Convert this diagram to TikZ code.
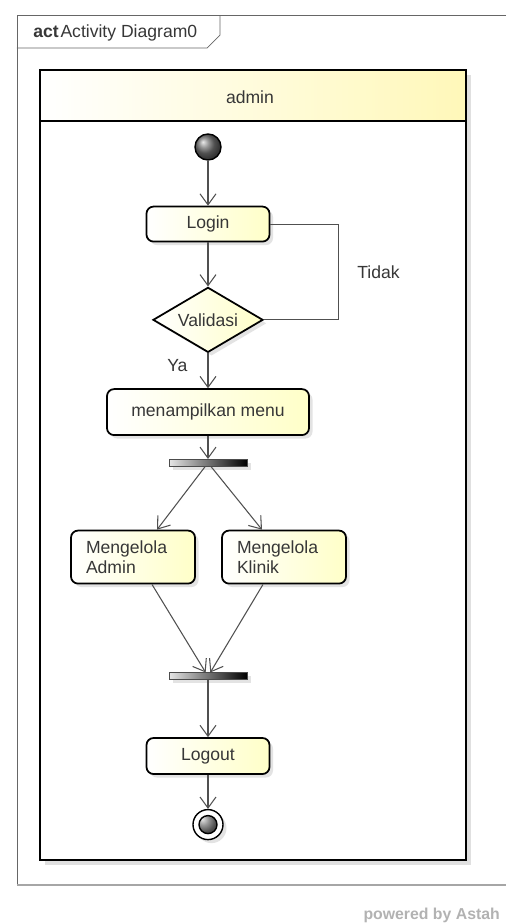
\documentclass[tikz,border=0pt]{standalone}
\usepackage{fontspec}
\setmainfont{Liberation Sans}
\usepackage{tikz}
\usetikzlibrary{shapes.geometric,arrows.meta,positioning,shadows}
\definecolor{paleyellow}{RGB}{255,255,200}
\definecolor{lanehead}{RGB}{255,248,185}
\definecolor{textgray}{RGB}{55,55,55}
\definecolor{linegray}{RGB}{80,80,80}
\tikzstyle{softshadow} = [drop shadow={shadow xshift=0.07cm, shadow yshift=-0.07cm, opacity=0.22}]
\tikzstyle{activity} = [rectangle, rounded corners=4pt, minimum width=2.46cm, minimum height=0.7cm, text centered, draw=black, line width=1pt, left color=white, right color=paleyellow, softshadow]
\tikzstyle{twoline} = [activity, text width=1.88cm, align=left, inner xsep=0.3cm, minimum height=1.06cm]
\tikzstyle{decision} = [diamond, aspect=1.7, minimum width=2.2cm, minimum height=1.3cm, inner sep=0pt, draw=black, line width=1pt, left color=white, right color=paleyellow, softshadow]
\tikzstyle{syncbar} = [rectangle, minimum width=1.56cm, minimum height=0.14cm, inner sep=0pt, draw=black!70, left color=black!10, right color=black, softshadow]
\tikzstyle{initial} = [circle, draw=black, line width=0.8pt, minimum size=0.52cm, inner sep=0pt, ball color=black!55]
\tikzstyle{final} = [circle, draw=black, line width=0.8pt, minimum size=0.6cm, inner sep=0pt, fill=white, softshadow, path picture={\shadedraw[ball color=black!55, draw=black] (path picture bounding box.center) circle (0.18cm);}]
\tikzstyle{flow} = [draw=linegray, line width=0.6pt]
\tikzstyle{arrow} = [flow, -{Straight Barb[length=2.2mm,width=3.2mm]}]
\tikzstyle{guard} = [inner sep=0pt, text=textgray]

\begin{document}
\begin{tikzpicture}[node distance=0.9cm, font=\fontsize{10}{11.5}\selectfont, every node/.append style={text=textgray}]
\useasboundingbox (0,0) rectangle (10.12,-18.46);

% diagram frame with its tab
\draw[black!60] (10.12,-0.3) -- (0.34,-0.3) -- (0.34,-17.7);
\draw[black!35, line width=1.2pt] (0.34,-17.7) -- (10.12,-17.7);
\draw[black!60] (4.4,-0.3) -- (4.4,-0.7) -- (4.14,-0.96) -- (0.34,-0.96);
\node(title) [anchor=west, inner sep=0pt] at (0.66,-0.66) {\textbf{act}\kern1pt Activity Diagram0};

% swimlane
\fill[black!20, opacity=0.6] (0.9,-1.5) rectangle (9.42,-17.3);
\fill[white] (0.8,-1.4) rectangle (9.32,-17.2);
\shade[left color=white, right color=lanehead] (0.8,-1.4) rectangle (9.32,-2.42);
\draw[line width=1.4pt] (0.8,-1.4) rectangle (9.32,-17.2);
\draw[line width=1.4pt] (0.8,-2.42) -- (9.32,-2.42);
\node(lane) at (5.0,-1.94) {admin};

\node(start)   [initial] at (4.16,-2.94) {};
\node(login)   [activity, below=0.9cm of start] {Login};
\node(valid)   [decision, below=0.88cm of login] {Validasi};
\node(menu)    [activity, minimum width=4.04cm, minimum height=0.92cm, below=0.7cm of valid] {menampilkan menu};
\node(fork)    [syncbar, below=0.46cm of menu] {};
\node(admin)   [twoline, below=1.26cm of fork, xshift=-1.5cm] {Mengelola\\Admin};
\node(klinik)  [twoline, below=1.26cm of fork, xshift=1.52cm] {Mengelola\\Klinik};
\node(join)    [syncbar, below=1.76cm of admin, xshift=1.5cm] {};
\node(logout)  [activity, minimum height=0.72cm, below=1.14cm of join] {Logout};
\node(stop)    [final, below=0.68cm of logout] {};

\draw [arrow] (start)  -- (login);
\draw [arrow] (login)  -- (valid);
\draw [flow]  (valid.east) -- ++(1.5,0) |- node[guard, pos=0.25, right=0.36cm]{Tidak} (login.east);
\draw [arrow] (valid)  -- node[guard, pos=0.35, left=0.4cm]{Ya} (menu);
\draw [arrow] (menu)   -- (fork);
\draw [arrow] (fork)   -- ([xshift=0.48cm]admin.north);
\draw [arrow] (fork)   -- ([xshift=-0.44cm]klinik.north);
\draw [arrow] ([xshift=0.38cm]admin.south)   -- (join);
\draw [arrow] ([xshift=-0.42cm]klinik.south) -- (join);
\draw [arrow] (join)   -- (logout);
\draw [arrow] (logout) -- (stop);

\node(credit) [anchor=east, text=black!30, font=\fontsize{9}{10}\selectfont\bfseries] at (10.12,-18.3) {powered by Astah};

\end{tikzpicture}
\end{document}
